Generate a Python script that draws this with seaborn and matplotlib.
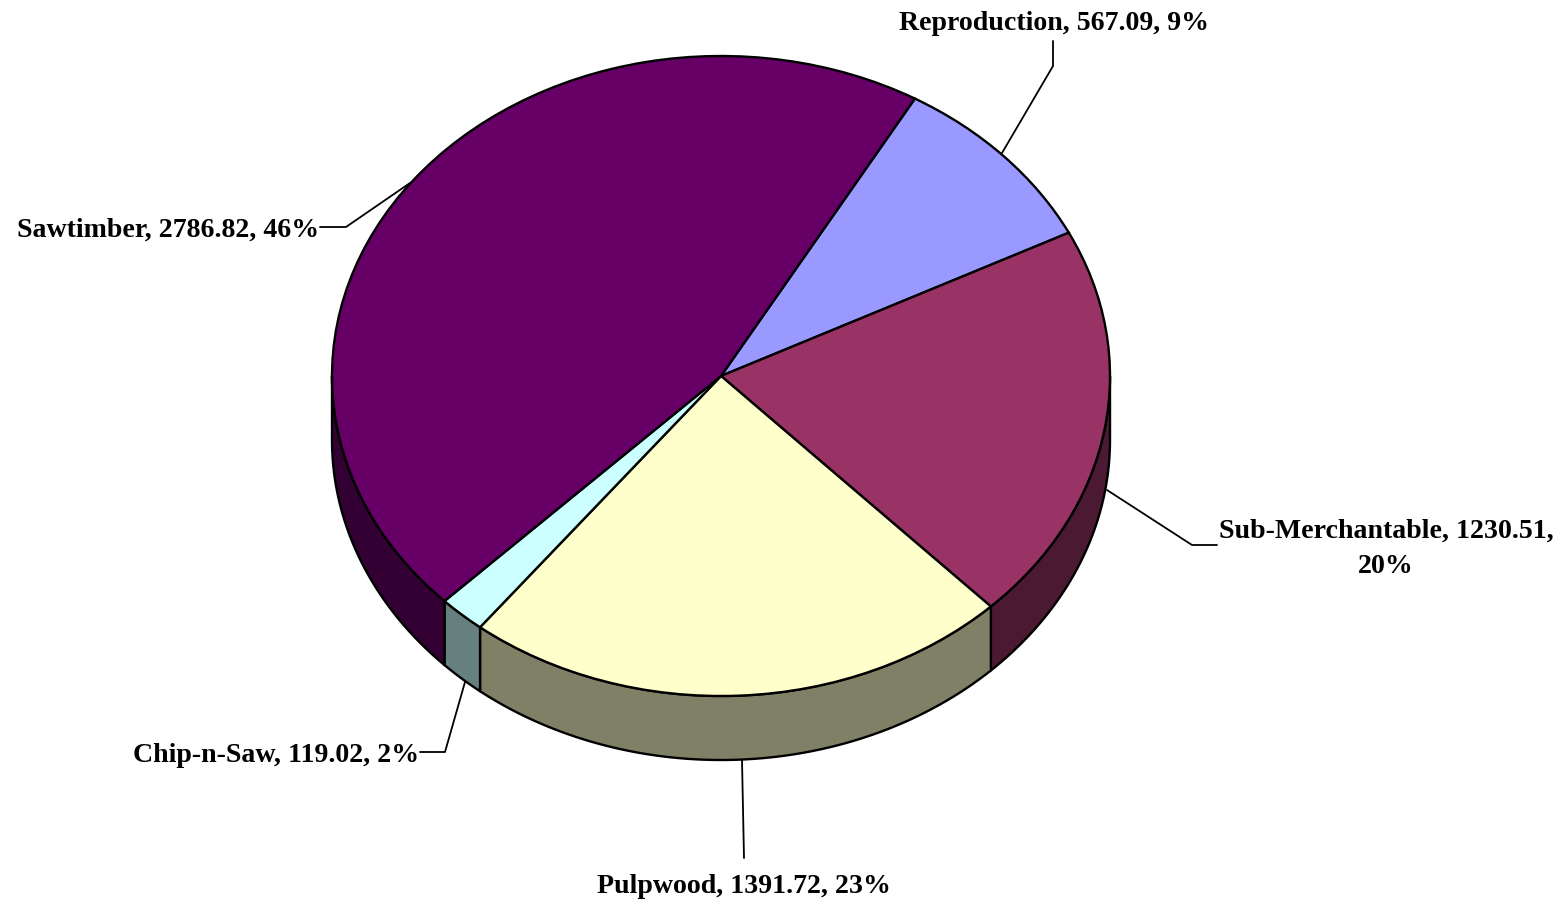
import numpy as np
import matplotlib
matplotlib.use('Agg')
import matplotlib.pyplot as plt
import seaborn as sns

categories = ['Reproduction', 'Sub-Merchantable', 'Pulpwood', 'Chip-n-Saw', 'Sawtimber']
values = [567.09, 1230.51, 1391.72, 119.02, 2786.82]
percents = [9, 20, 23, 2, 46]
top_colors = ['#9999FF', '#993366', '#FFFFCC', '#CCFFFF', '#660066']
side_colors = ['#4C4C80', '#4C1933', '#808066', '#668080', '#330033']

sns.set_theme(style='white')
plt.rcParams['font.family'] = ['Liberation Serif', 'DejaVu Serif']

W, H = 1564, 903
CX, CY = 721, 377     # pie centre in pixels
RX, RY = 389, 320     # ellipse radii in pixels
DEPTH = 64 / RY       # wall height in axis units
START = 60.1          # where the first slice starts


def px(x, y):
    # picture pixels -> axis units
    return (x - CX) / RX, (CY - y) / RY


fig = plt.figure(figsize=(W / 100, H / 100), dpi=100)
ax = fig.add_axes([0, 0, 1, 1])

# side walls, only the front half of the pie shows
edges = START - np.cumsum([0] + values) / sum(values) * 360
for i in range(len(values)):
    t = np.linspace(edges[i], edges[i + 1], 200)
    t = t[np.sin(np.radians(t)) <= 0]
    if len(t) == 0:
        continue
    x = np.cos(np.radians(t))
    y = np.sin(np.radians(t))
    ax.fill(np.r_[x, x[::-1]], np.r_[y, y[::-1] - DEPTH], facecolor=side_colors[i],
            edgecolor='black', linewidth=1.7, joinstyle='round', zorder=1)

ax.pie(values, colors=top_colors, startangle=START, counterclock=False,
       wedgeprops={'edgecolor': 'black', 'linewidth': 1.7, 'zorder': 2})

# pie() forces equal aspect, the squashed ellipse comes from the limits
ax.set_aspect('auto')
ax.set_xlim(-CX / RX, (W - CX) / RX)
ax.set_ylim((CY - H) / RY, CY / RY)
ax.axis('off')

leaders = [
    [(1053, 41), (1053, 66), (1002, 153)],
    [(1107, 490), (1192, 545), (1217, 545)],
    [(742, 760), (744, 858)],
    [(465, 682), (445, 752), (420, 752)],
    [(410, 183), (346, 227), (320, 227)],
]
for pts in leaders:
    lx, ly = zip(*[px(p[0], p[1] + 1) for p in pts])
    ax.plot(lx, ly, color='black', linewidth=1.3, zorder=3)

label_pos = [(1054, 23), (1386, 549), (744, 887), (276, 756), (168, 230)]
for i, name in enumerate(categories):
    label = f'{name}, {values[i]:.2f}, {percents[i]}%'
    if name == 'Sub-Merchantable':
        label = f'{name}, {values[i]:.2f},\n{percents[i]}%'
    tx, ty = px(*label_pos[i])
    ax.text(tx, ty, label, ha='center', va='center', fontsize=20.1, fontweight='bold',
            color='black', linespacing=1.55, zorder=4)

fig.savefig('out.png', dpi=100, facecolor='white')
